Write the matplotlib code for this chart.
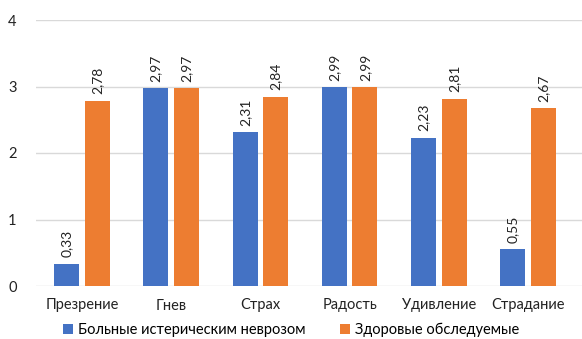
import numpy as np
import matplotlib.pyplot as plt

plt.rcParams['font.family'] = ['Lato', 'DejaVu Sans']

categories = ['Презрение', 'Гнев', 'Страх', 'Радость', 'Удивление', 'Страдание']
patients = [0.33, 2.97, 2.31, 2.99, 2.23, 0.55]
healthy = [2.78, 2.97, 2.84, 2.99, 2.81, 2.67]
series_names = ['Больные истерическим неврозом', 'Здоровые обследуемые']

blue = '#4472c4'
orange = '#ed7d31'

fig = plt.figure(figsize=(5.82, 3.39), dpi=100)
ax = fig.add_axes([36 / 582, 1 - 286 / 339, 546 / 582, 266 / 339])

x = np.arange(len(categories))
w = 0.28
off = 0.172
b1 = ax.bar(x - off, patients, w, color=blue, label=series_names[0], zorder=3)
b2 = ax.bar(x + off, healthy, w, color=orange, label=series_names[1], zorder=3)

def fmt(v):
    return f'{v:.2f}'.replace('.', ',')

for bars, vals in ((b1, patients), (b2, healthy)):
    for rect, v in zip(bars, vals):
        ax.text(rect.get_x() + rect.get_width() / 2, v + 0.1, fmt(v),
                rotation=90, ha='center', va='bottom', fontsize=10, color='#222222')

ax.set_xlim(-0.516, 5.605)
ax.set_ylim(0, 4)
ax.set_yticks([0, 1, 2, 3, 4])
ax.set_xticks(x)
ax.set_xticklabels(categories)
ax.tick_params(axis='both', length=0, labelsize=10.5, colors='#222222')
ax.tick_params(axis='y', pad=14)
ax.tick_params(axis='x', pad=9)
ax.yaxis.grid(True, color='#d9d9d9', linewidth=1, zorder=0)
for s in ax.spines.values():
    s.set_visible(False)

# legend sits at the very bottom edge of the figure
fig.legend(handles=[b1, b2], loc='center', bbox_to_anchor=(0.5, 1 - 330 / 339),
           ncol=2, frameon=False, fontsize=10.5, handlelength=0.7, handleheight=0.7,
           handletextpad=0.3, columnspacing=2.4)

fig.savefig('out.png', dpi=100)
